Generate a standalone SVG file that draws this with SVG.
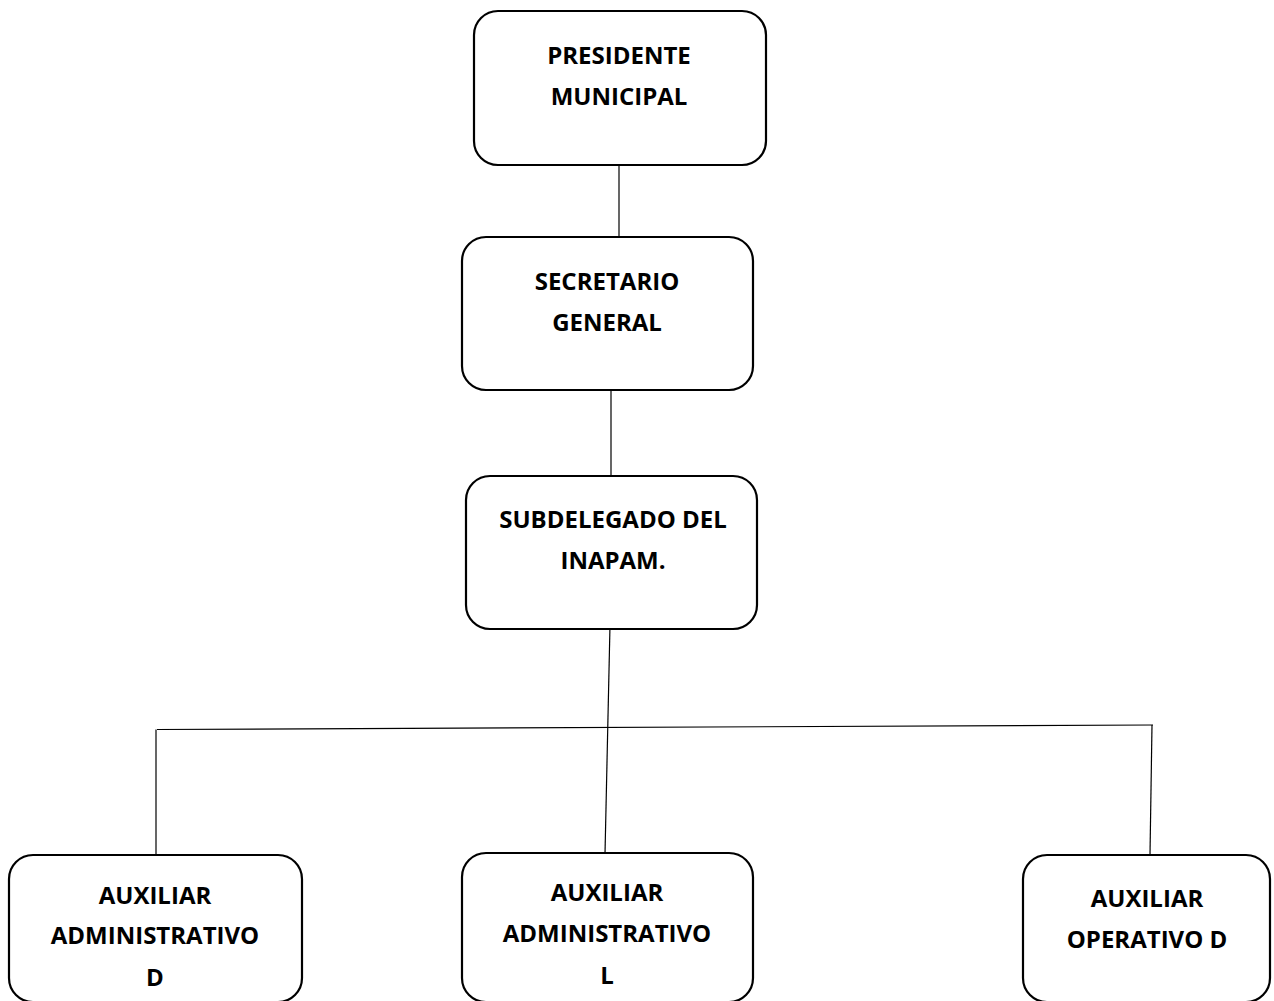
<svg xmlns="http://www.w3.org/2000/svg" width="1274" height="1001" viewBox="0 0 1274 1001">
<style>
.box{fill:#fff;stroke:#000;stroke-width:2.2}
.lbl{font-family:"Open Sans","Liberation Sans",sans-serif;font-weight:bold;font-size:24px;text-anchor:middle;fill:#000}
.con{stroke:#000;stroke-width:1.2;fill:none}
</style>
<rect width="1274" height="1001" fill="#fff"/>
<g id="connectors">
<line class="con" x1="619" y1="165" x2="619" y2="237"/>
<line class="con" x1="611" y1="390" x2="611" y2="475"/>
<line class="con" x1="610" y1="625" x2="605" y2="854"/>
<line class="con" x1="157" y1="729.5" x2="1153" y2="725"/>
<line class="con" x1="156" y1="729.5" x2="156" y2="855"/>
<line class="con" x1="1152" y1="725" x2="1150" y2="855"/>
</g>
<g id="presidente">
<rect class="box" x="474" y="11" width="292" height="154" rx="24"/>
<text class="lbl" x="619" y="64">PRESIDENTE</text>
<text class="lbl" x="619" y="105">MUNICIPAL</text>
</g>
<g id="secretario">
<rect class="box" x="462" y="237" width="291" height="153" rx="24"/>
<text class="lbl" x="607" y="290">SECRETARIO</text>
<text class="lbl" x="607" y="331">GENERAL</text>
</g>
<g id="subdelegado">
<rect class="box" x="466" y="476" width="291" height="153" rx="24"/>
<text class="lbl" x="613" y="528">SUBDELEGADO DEL</text>
<text class="lbl" x="613" y="569">INAPAM.</text>
</g>
<g id="aux-admin-d">
<rect class="box" x="9" y="855" width="293" height="147" rx="24"/>
<text class="lbl" x="155" y="904">AUXILIAR</text>
<text class="lbl" x="155" y="944">ADMINISTRATIVO</text>
<text class="lbl" x="155" y="986">D</text>
</g>
<g id="aux-admin-l">
<rect class="box" x="462" y="853" width="291" height="149" rx="24"/>
<text class="lbl" x="607" y="901">AUXILIAR</text>
<text class="lbl" x="607" y="942">ADMINISTRATIVO</text>
<text class="lbl" x="607" y="984">L</text>
</g>
<g id="aux-operativo-d">
<rect class="box" x="1023" y="855" width="247" height="147" rx="24"/>
<text class="lbl" x="1147" y="907">AUXILIAR</text>
<text class="lbl" x="1147" y="948">OPERATIVO D</text>
</g>
</svg>
